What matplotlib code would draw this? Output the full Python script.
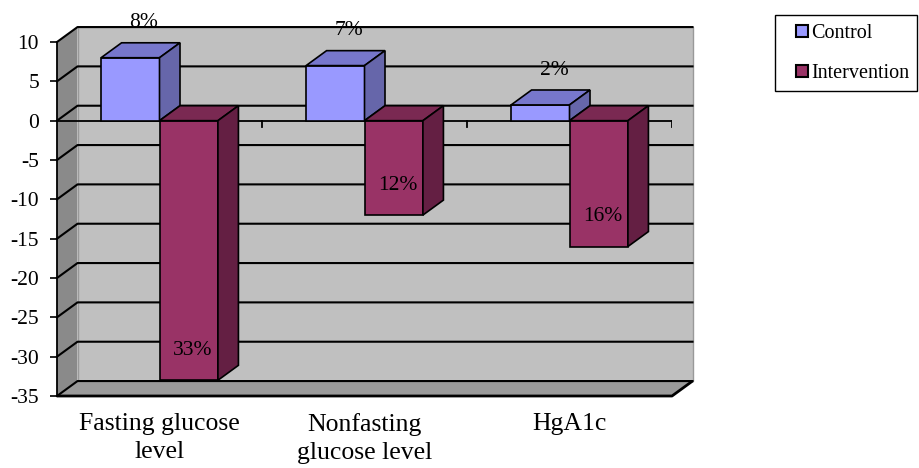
import matplotlib
matplotlib.use("Agg")
import matplotlib.pyplot as plt
from matplotlib.patches import Polygon, Patch, Rectangle

# data
categories = ["Fasting glucose\nlevel", "Nonfasting\nglucose level", "HgA1c"]
control = [8, 7, 2]
intervention = [-33, -12, -16]
control_labels = ["8%", "7%", "2%"]
intervention_labels = ["33%", "12%", "16%"]
yticks = list(range(-35, 11, 5))

plt.rcParams['font.family'] = ['Liberation Serif', 'DejaVu Serif']
plt.rcParams['axes.unicode_minus'] = False

DX, DY = 0.1, 1.9      # fake 3d depth, in data units
BAR_W = 0.285
GAP = 0.215
YMIN, YMAX = -35, 10
NCAT = len(categories)

ctrl_cols = ('#9999ff', '#7777cc', '#6666aa')    # front, top, side
int_cols = ('#993366', '#7a2952', '#641f43')

fig = plt.figure(figsize=(9.19, 4.68), dpi=100)
ax = fig.add_axes([57/919, 72/468, 615/919, 354/468])
ax.set_xlim(0, NCAT)
ax.set_ylim(YMIN, YMAX)
ax.patch.set_visible(False)


def poly(pts, fc, z, ec='black', lw=1.2):
    ax.add_patch(Polygon(pts, closed=True, facecolor=fc, edgecolor=ec,
                         linewidth=lw, zorder=z, clip_on=False, joinstyle='miter'))


# back wall, left wall, floor
poly([(DX, YMIN+DY), (NCAT+DX, YMIN+DY), (NCAT+DX, YMAX+DY), (DX, YMAX+DY)],
     '#c0c0c0', 1, ec='#999999', lw=1)
poly([(0, YMIN), (DX, YMIN+DY), (DX, YMAX+DY), (0, YMAX)], '#8a8a8a', 1.1, ec='none')
poly([(0, YMIN), (NCAT, YMIN), (NCAT+DX, YMIN+DY), (DX, YMIN+DY)], '#9a9a9a', 1.1, ec='none')
ax.plot([0, NCAT, NCAT+DX], [YMIN, YMIN, YMIN+DY], color='black', lw=2,
        zorder=1.3, clip_on=False, solid_capstyle='butt')

# gridlines on back wall + left wall
for v in yticks:
    ax.plot([0, DX, NCAT+DX], [v, v+DY, v+DY], color='black', lw=1.5,
            zorder=1.2, clip_on=False)

# zero line with category ticks
ax.plot([0, NCAT], [0, 0], color='black', lw=1.3, zorder=2)
for i in range(1, NCAT+1):
    ax.plot([i, i], [0, -0.8], color='black', lw=1.3, zorder=2)


def bar(x0, v, cols, z):
    x1 = x0 + BAR_W
    t = max(v, 0)
    poly([(x0, 0), (x1, 0), (x1, v), (x0, v)], cols[0], z)
    poly([(x0, t), (x1, t), (x1+DX, t+DY), (x0+DX, t+DY)], cols[1], z)
    poly([(x1, 0), (x1+DX, DY), (x1+DX, v+DY), (x1, v)], cols[2], z)


for i in range(NCAT):
    xc = i + GAP
    xi = i + GAP + BAR_W
    bar(xc, control[i], ctrl_cols, 3 + i*0.1)
    bar(xi, intervention[i], int_cols, 3.05 + i*0.1)
    ax.text(xc + BAR_W/2 + 0.067, control[i] + 3.85, control_labels[i],
            ha='center', va='baseline', fontsize=15.5, zorder=5)
    ax.text(xi + BAR_W/2 + 0.02, intervention[i] + 3.2, intervention_labels[i],
            ha='center', va='baseline', fontsize=15.5, zorder=5)

# axes styling
for s in ['top', 'right', 'bottom']:
    ax.spines[s].set_visible(False)
ax.spines['left'].set_linewidth(1.3)
ax.spines['left'].set_zorder(2)
ax.set_yticks(yticks)
ax.tick_params(axis='y', direction='out', length=5, width=1.2, pad=8, labelsize=15.5)
ax.set_xticks([i + 0.5 for i in range(NCAT)])
ax.set_xticklabels(categories, fontsize=18.5, linespacing=1.35)
ax.tick_params(axis='x', length=0, pad=12)

# legend (entries + separate square frame)
handles = [Patch(facecolor=ctrl_cols[0], edgecolor='black', linewidth=1.5),
           Patch(facecolor=int_cols[0], edgecolor='black', linewidth=1.5)]
fig.legend(handles, ['Control', 'Intervention'], loc='upper left',
           bbox_to_anchor=(796/919, 1 - 24/468), frameon=False, fontsize=14.5,
           handlelength=0.6, handleheight=0.6, handletextpad=0.15,
           labelspacing=1.05, borderpad=0, borderaxespad=0)
fig.add_artist(Rectangle((775/919, 1 - 91/468), 142/919, 76/468,
                         transform=fig.transFigure, fill=False,
                         edgecolor='black', linewidth=1))

fig.savefig('out.png', dpi=100)
